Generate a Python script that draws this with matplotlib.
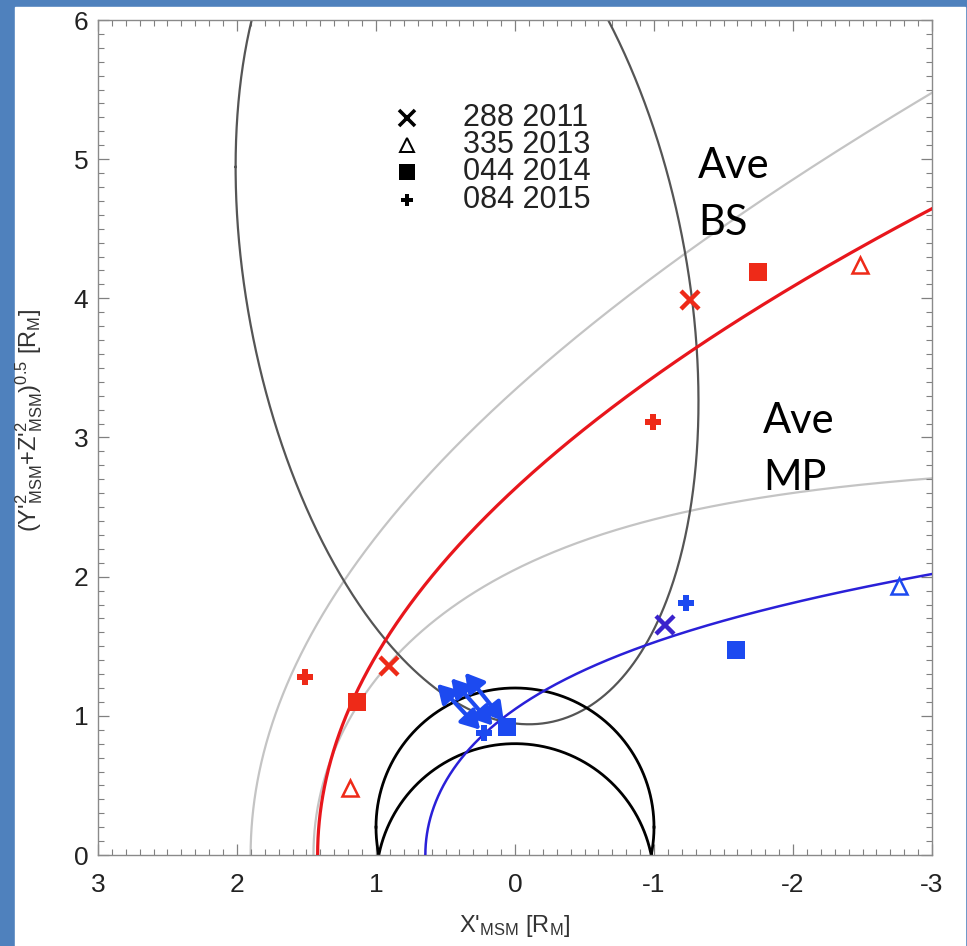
import numpy as np
import matplotlib
matplotlib.use("Agg")
from matplotlib import pyplot as plt
from matplotlib import patches as ptch
from matplotlib.ticker import MultipleLocator

plt.rcParams["font.family"] = ["Liberation Sans", "DejaVu Sans"]
plt.rcParams["mathtext.default"] = "regular"
plt.rcParams["axes.unicode_minus"] = False

# bow shock crossings (red) and magnetopause crossings (blue), X' and rho in R_M
BS_X = {"288 2011": [0.91, -1.26], "335 2013": [1.19, -2.48],
        "044 2014": [1.14, -1.75], "084 2015": [1.51, -0.99]}
BS_RHO = {"288 2011": [1.36, 3.99], "335 2013": [0.48, 4.24],
          "044 2014": [1.10, 4.19], "084 2015": [1.28, 3.11]}
MP_X = {"288 2011": [-1.08], "335 2013": [-2.76],
        "044 2014": [-1.59, 0.06], "084 2015": [-1.23, 0.22]}
MP_RHO = {"288 2011": [1.65], "335 2013": [1.93],
          "044 2014": [1.47, 0.92], "084 2015": [1.81, 0.88]}
EVENTS = ["288 2011", "335 2013", "044 2014", "084 2015"]

# inbound magnetopause intervals
ARROW_TAIL_X = [0.25, 0.16, 0.08]
ARROW_TAIL_RHO = [0.90, 0.93, 0.96]
ARROW_HEAD_X = [0.56, 0.46, 0.36]
ARROW_HEAD_RHO = [1.23, 1.27, 1.31]

# average boundaries (Winslow et al. 2013)
AVE_BS = dict(x0=0.5, ecc=1.04, p=2.75)
AVE_MP = dict(r0=1.45, alpha=0.5)
# boundaries fitted to these crossings
FIT_BS = dict(x0=0.2, ecc=1.0, semi_latus=2.44)
FIT_MP = dict(r0=0.645, alpha=0.70)
# spacecraft orbit in the X'-rho plane
ORBIT = dict(xc=0.345, yc=4.1, ax=1.665, kxy=0.844, ay=3.046)
DIPOLE_OFFSET = 0.2

MARKERS = {"288 2011": dict(marker="x", mew=3.2, ms=13, mfc="none"),
           "335 2013": dict(marker="^", mew=1.8, ms=12, mfc="white"),
           "044 2014": dict(marker="s", mew=0, ms=13),
           "084 2015": dict(marker="P", mew=0, ms=11)}
RED = "#ee2a18"
BLUE = "#1c4af0"


def conic(x0, ecc, semi_latus, tmax):
    th = np.linspace(0, tmax, 600)
    r = semi_latus / (1 + ecc * np.cos(th))
    return x0 + r * np.cos(th), r * np.sin(th)


def shue(r0, alpha, tmax=np.radians(170)):
    th = np.linspace(0, tmax, 600)
    r = r0 * (2 / (1 + np.cos(th))) ** alpha
    return r * np.cos(th), r * np.sin(th)


fig = plt.figure(figsize=(9.67, 9.46), dpi=100, facecolor="#4f81bd")
fig.patches.append(ptch.Rectangle((15 / 967, 0), 950 / 967, 1 - 7 / 946,
                                  transform=fig.transFigure, color="white", zorder=-10))
ax = fig.add_axes([98 / 967, 1 - 855 / 946, 834 / 967, 835 / 946])

# average boundaries
bx, by = conic(AVE_BS["x0"], AVE_BS["ecc"], AVE_BS["ecc"] * AVE_BS["p"], np.radians(160))
ax.plot(bx, by, color="#c4c4c4", lw=1.6, zorder=1)
mx, my = shue(AVE_MP["r0"], AVE_MP["alpha"])
ax.plot(mx, my, color="#c4c4c4", lw=1.6, zorder=1)

# orbit
t = np.linspace(0, 2 * np.pi, 800)
ox = ORBIT["xc"] + ORBIT["ax"] * np.cos(t)
oy = ORBIT["yc"] + ORBIT["kxy"] * np.cos(t) + ORBIT["ay"] * np.sin(t)
ax.plot(ox, oy, color="#555555", lw=1.6, zorder=2)

# planet surface, offset dipole frame
t = np.linspace(0, np.pi, 800)
ax.plot(np.cos(t), np.abs(np.sin(t) - DIPOLE_OFFSET), color="black", lw=2.0, zorder=2)
ax.plot(np.cos(t), np.sin(t) + DIPOLE_OFFSET, color="black", lw=2.0, zorder=2)

# fitted boundaries
fx, fy = conic(FIT_BS["x0"], FIT_BS["ecc"], FIT_BS["semi_latus"], np.radians(170))
ax.plot(fx, fy, color="#e8161c", lw=2.3, zorder=3)
gx, gy = shue(FIT_MP["r0"], FIT_MP["alpha"])
ax.plot(gx, gy, color="#2a20d8", lw=1.8, zorder=3)

for tx, ty, hx, hy in zip(ARROW_TAIL_X, ARROW_TAIL_RHO, ARROW_HEAD_X, ARROW_HEAD_RHO):
    ax.annotate("", xy=(hx, hy), xytext=(tx, ty), zorder=4,
                arrowprops=dict(arrowstyle="<|-|>,head_length=0.55,head_width=0.32",
                                color=BLUE, lw=3.0, mutation_scale=20,
                                shrinkA=0, shrinkB=0))

for ev in EVENTS:
    st = MARKERS[ev]
    mfc = st["mfc"] if "mfc" in st else RED
    ax.plot(BS_X[ev], BS_RHO[ev], ls="none", marker=st["marker"], ms=st["ms"],
            mew=st["mew"], mec=RED, mfc=mfc if mfc != "none" else RED, zorder=5)
    mfc = st["mfc"] if "mfc" in st else BLUE
    ax.plot(MP_X[ev], MP_RHO[ev], ls="none", marker=st["marker"], ms=st["ms"],
            mew=st["mew"], mec=BLUE if ev != "288 2011" else "#3a22cc",
            mfc=mfc if mfc != "none" else BLUE, zorder=5)

# legend
leg_y = [5.295, 5.101, 4.907, 4.705]
for ev, yy in zip(EVENTS, leg_y):
    st = MARKERS[ev]
    ax.plot([0.777], [yy], ls="none", marker=st["marker"], ms=st["ms"] * 0.85,
            mew=st["mew"] * 0.8, mec="black",
            mfc=st.get("mfc", "black") if st.get("mfc") != "none" else "black")
    ax.text(0.374, yy, ev, fontsize=22, va="center", ha="left", color="#222222")

lato = ["Lato", "DejaVu Sans"]
ax.text(-1.317, 4.863, "Ave", fontsize=30, family=lato, va="baseline")
ax.text(-1.317, 4.454, "BS", fontsize=30, family=lato, va="baseline")
ax.text(-1.784, 3.032, "Ave", fontsize=30, family=lato, va="baseline")
ax.text(-1.784, 2.622, "MP", fontsize=30, family=lato, va="baseline")

ax.set_xlim(3, -3)
ax.set_ylim(0, 6)
ax.xaxis.set_major_locator(MultipleLocator(1))
ax.yaxis.set_major_locator(MultipleLocator(1))
ax.xaxis.set_minor_locator(MultipleLocator(0.1))
ax.yaxis.set_minor_locator(MultipleLocator(0.1))
ax.tick_params(which="both", direction="in", top=True, right=True, color="#808080")
ax.tick_params(which="major", length=8, width=0.9, labelsize=19, labelcolor="#222222")
ax.tick_params(which="minor", length=4, width=0.8)
ax.tick_params(axis="x", which="major", pad=13)
ax.tick_params(axis="y", which="major", pad=7)
for s in ax.spines.values():
    s.set_color("#8a8a8a")
    s.set_linewidth(1.0)

ax.set_xlabel("X'$_{MSM}$ [R$_M$]", fontsize=17, color="#333333")
ax.set_ylabel("(Y'$^2_{MSM}$+Z'$^2_{MSM}$)$^{0.5}$ [R$_M$]", fontsize=17, color="#333333")
ax.xaxis.set_label_coords(0.5, -0.070)
ax.yaxis.set_label_coords(-0.064, 0.521)

fig.savefig("out.png", dpi=100, facecolor=fig.get_facecolor())
